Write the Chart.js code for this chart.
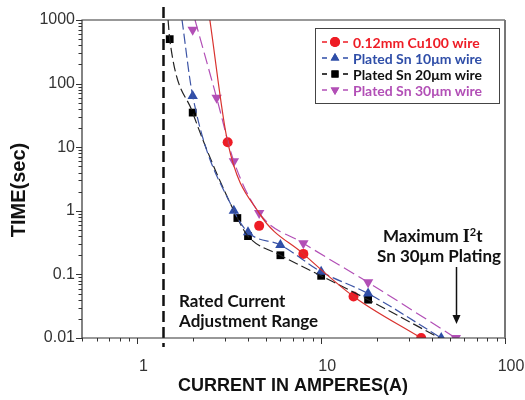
<!DOCTYPE html>
<html>
  <head>
    <script src="https://cdn.jsdelivr.net/npm/chart.js"></script>
    <style>
      body { margin: 0; background: #fff; }
      #wrap { position: relative; width: 525px; height: 400px; }
    </style>
  </head>
  <body>
    <div id="wrap"><canvas id="fuse-chart"></canvas></div>
    <script>
      // Measured blow times: current (A) and time (s)
      var cuI   = [3.1, 4.6, 8, 15, 35];
      var cuT   = [12, 0.58, 0.21, 0.045, 0.01];
      var sn10I = [2, 3.35, 4, 6, 10, 18, 45];
      var sn10T = [64, 1.0, 0.46, 0.29, 0.11, 0.05, 0.01];
      var sn20I = [1.5, 2, 3.5, 4, 6, 10, 18];
      var sn20T = [500, 35, 0.77, 0.4, 0.2, 0.095, 0.04];
      var sn30I = [2, 2.7, 3.35, 4.6, 8, 18, 54];
      var sn30T = [700, 60, 6, 0.92, 0.31, 0.075, 0.01];

      // Fitted curves for each wire
      var cuFitI   = [2.48, 3.1, 4.6, 8, 15, 35];
      var cuFitT   = [1000, 12, 0.92, 0.21, 0.045, 0.01];
      var sn10FitI = [1.75, 2, 3.35, 4, 6, 10, 18, 45];
      var sn10FitT = [1000, 64, 1.0, 0.46, 0.29, 0.11, 0.05, 0.01];
      var sn20FitI = [1.47, 1.5, 2, 3.5, 4, 6, 10, 18, 44];
      var sn20FitT = [1000, 500, 35, 0.77, 0.4, 0.2, 0.095, 0.04, 0.01];
      var sn30FitI = [2.06, 2.7, 3.35, 4.6, 8, 18, 54];
      var sn30FitT = [1000, 60, 6, 0.92, 0.31, 0.075, 0.01];

      var seriesNames = ['0.12mm Cu100 wire', 'Plated Sn 10\u03bcm wire', 'Plated Sn 20\u03bcm wire', 'Plated Sn 30\u03bcm wire'];
      var ratedCurrent = 1.38;
      var maxI2tCurrent = 54;

      var xTickLabels = [1, 10, 100];
      var yTickLabels = [0.01, 0.1, 1, 10, 100, 1000];

      var red = '#ee1c25', blue = '#2f4ea8', black = '#000000', magenta = '#b24fb6';

      function pts(xs, ys) {
        return xs.map(function (x, i) { return { x: x, y: ys[i] }; });
      }

      // log ticks: 1..9 within every decade between min and max
      function logTicks(min, max) {
        var out = [];
        for (var e = Math.floor(Math.log10(min)); e <= Math.ceil(Math.log10(max)); e++) {
          for (var m = 1; m <= 9; m++) {
            var v = parseFloat((m * Math.pow(10, e)).toPrecision(6));
            if (v >= min - 1e-9 && v <= max + 1e-9) out.push(v);
          }
        }
        return out;
      }
      function isMajor(v, list) {
        return list.some(function (m) { return Math.abs(Math.log10(v) - Math.log10(m)) < 1e-6; });
      }

      function fitLine(data, color, dash) {
        return {
          data: data, showLine: true, pointRadius: 0, borderColor: color,
          borderWidth: 1.2, borderDash: dash, cubicInterpolationMode: 'monotone', fill: false
        };
      }
      function marks(data, color, style, r, rot) {
        return {
          data: data, showLine: false, pointStyle: style, pointRadius: r, pointRotation: rot || 0,
          backgroundColor: color, borderColor: color, borderWidth: 0, pointHoverRadius: r
        };
      }

      var frame = {
        id: 'frame',
        beforeDatasetsDraw: function (chart) {
          var ctx = chart.ctx, a = chart.chartArea, xs = chart.scales.x;
          // rated current boundary
          var rx = Math.round(xs.getPixelForValue(ratedCurrent)) + 0.5;
          ctx.save();
          ctx.strokeStyle = '#111';
          ctx.lineWidth = 2.5;
          ctx.setLineDash([11, 5]);
          ctx.beginPath();
          ctx.moveTo(rx, 7);
          ctx.lineTo(rx, a.bottom + 9);
          ctx.stroke();
          ctx.restore();
        },
        afterDraw: function (chart) {
          var ctx = chart.ctx, a = chart.chartArea, xs = chart.scales.x, ys = chart.scales.y;
          ctx.save();
          // plot frame
          ctx.strokeStyle = '#333';
          ctx.lineWidth = 1.2;
          ctx.beginPath();
          ctx.moveTo(a.left, a.bottom);
          ctx.lineTo(a.left, a.top);
          ctx.lineTo(a.right, a.top);
          ctx.moveTo(a.left, a.bottom);
          ctx.lineTo(a.right, a.bottom);
          ctx.stroke();
          ctx.strokeStyle = '#777';
          ctx.lineWidth = 2;
          ctx.beginPath();
          ctx.moveTo(a.right, a.top);
          ctx.lineTo(a.right, a.bottom + 1);
          ctx.stroke();

          // tick marks, outward
          ctx.strokeStyle = '#333';
          ctx.lineWidth = 1;
          ctx.beginPath();
          xs.ticks.forEach(function (t) {
            var px = Math.round(xs.getPixelForValue(t.value)) + 0.5;
            var len = isMajor(t.value, xTickLabels) ? 6 : 3.5;
            ctx.moveTo(px, a.bottom);
            ctx.lineTo(px, a.bottom + len);
          });
          ys.ticks.forEach(function (t) {
            var py = Math.round(ys.getPixelForValue(t.value)) + 0.5;
            var len = isMajor(t.value, yTickLabels) ? 6 : 3.5;
            ctx.moveTo(a.left, py);
            ctx.lineTo(a.left - len, py);
          });
          ctx.stroke();

          // axis titles
          ctx.fillStyle = '#111';
          ctx.font = 'bold 18px "Liberation Sans", Arial, sans-serif';
          ctx.textAlign = 'center';
          ctx.textBaseline = 'middle';
          ctx.fillText('CURRENT IN AMPERES(A)', 293, 386);
          ctx.save();
          ctx.translate(19, 190);
          ctx.rotate(-Math.PI / 2);
          ctx.font = 'bold 20px "Liberation Sans", Arial, sans-serif';
          ctx.fillText('TIME(sec)', 0, 0);
          ctx.restore();

          // annotations
          ctx.textAlign = 'left';
          ctx.font = 'bold 17px Lato, sans-serif';
          ctx.fillText('Rated Current', 179, 302);
          ctx.fillText('Adjustment Range', 179, 322);
          ctx.fillText('Sn 30\u03bcm Plating', 377, 257);
          var tx = 383, ty = 237;
          ctx.fillText('Maximum ', tx, ty);
          tx += ctx.measureText('Maximum ').width;
          ctx.font = 'bold 18px "Liberation Serif", serif';
          ctx.fillText('I', tx, ty);
          tx += ctx.measureText('I').width;
          ctx.font = 'bold 11px Lato, sans-serif';
          ctx.fillText('2', tx, ty - 5);
          tx += ctx.measureText('2').width;
          ctx.font = 'bold 17px Lato, sans-serif';
          ctx.fillText('t', tx, ty);

          // arrow to maximum I2t point
          var ax = Math.round(xs.getPixelForValue(maxI2tCurrent)) + 0.5;
          ctx.strokeStyle = '#111';
          ctx.lineWidth = 1.5;
          ctx.beginPath();
          ctx.moveTo(ax, 267);
          ctx.lineTo(ax, 318);
          ctx.stroke();
          ctx.beginPath();
          ctx.moveTo(ax - 4, 315);
          ctx.lineTo(ax + 4, 315);
          ctx.lineTo(ax, 324);
          ctx.closePath();
          ctx.fillStyle = '#111';
          ctx.fill();

          // legend box
          ctx.fillStyle = '#fff';
          ctx.fillRect(315, 28, 184, 75);
          ctx.strokeStyle = '#444';
          ctx.lineWidth = 1;
          ctx.strokeRect(315.5, 28.5, 184, 75);
          var cols = [red, blue, black, magenta];
          var styles = ['circle', 'triangle', 'rect', 'triangle'];
          var rots = [0, 0, 0, 180];
          ctx.font = 'bold 14px Lato, sans-serif';
          seriesNames.forEach(function (name, i) {
            var y = 42 + i * 16;
            ctx.strokeStyle = cols[i];
            ctx.lineWidth = 1.5;
            ctx.beginPath();
            ctx.moveTo(322, y); ctx.lineTo(327, y);
            ctx.moveTo(343, y); ctx.lineTo(348, y);
            ctx.stroke();
            ctx.fillStyle = cols[i];
            Chart.helpers.drawPoint(ctx, { pointStyle: styles[i], radius: 5, rotation: rots[i], borderWidth: 0 }, 335, y);
            ctx.fill();
            ctx.fillStyle = cols[i] === black ? '#111' : cols[i];
            ctx.textAlign = 'left';
            ctx.fillText(name, 353, y + 1);
          });
          ctx.restore();
        }
      };

      var ctx = document.getElementById('fuse-chart').getContext('2d');
      var fuseChart = new Chart(ctx, {
        type: 'scatter',
        data: {
          datasets: [
            fitLine(pts(cuFitI, cuFitT), '#d9322e', []),
            fitLine(pts(sn10FitI, sn10FitT), '#3d55a6', [10, 4]),
            fitLine(pts(sn20FitI, sn20FitT), '#222', [10, 4]),
            fitLine(pts(sn30FitI, sn30FitT), magenta, [12, 5]),
            marks(pts(cuI, cuT), red, 'circle', 5),
            marks(pts(sn10I, sn10T), blue, 'triangle', 6),
            marks(pts(sn20I, sn20T), black, 'rect', 5.5),
            marks(pts(sn30I, sn30T), magenta, 'triangle', 6, 180)
          ]
        },
        options: {
          responsive: true,
          maintainAspectRatio: false,
          animation: false,
          layout: { padding: { top: 20, right: 20, left: 0, bottom: 0 } },
          plugins: { legend: { display: false }, tooltip: { enabled: false } },
          scales: {
            x: {
              type: 'logarithmic', min: 0.5, max: 100,
              grid: { display: false, drawTicks: false },
              border: { display: false },
              afterBuildTicks: function (s) {
                s.ticks = logTicks(0.5, 100).map(function (v) { return { value: v }; });
              },
              afterFit: function (s) { s.height = 62; s.paddingLeft = 0; s.paddingRight = 0; },
              ticks: {
                autoSkip: false, maxRotation: 0, padding: 19, labelOffset: 6, color: '#333',
                font: { family: '"Liberation Sans", Arial, sans-serif', size: 16 },
                callback: function (v) { return isMajor(v, xTickLabels) ? String(v) : ''; }
              }
            },
            y: {
              type: 'logarithmic', min: 0.01, max: 1000,
              grid: { display: false, drawTicks: false },
              border: { display: false },
              afterBuildTicks: function (s) {
                s.ticks = logTicks(0.01, 1000).map(function (v) { return { value: v }; });
              },
              afterFit: function (s) { s.width = 82; s.paddingTop = 0; s.paddingBottom = 0; },
              ticks: {
                autoSkip: false, padding: 7, color: '#333',
                font: { family: '"Liberation Sans", Arial, sans-serif', size: 16 },
                callback: function (v) { return isMajor(v, yTickLabels) ? String(v) : ''; }
              }
            }
          }
        },
        plugins: [frame]
      });
    </script>
  </body>
</html>
